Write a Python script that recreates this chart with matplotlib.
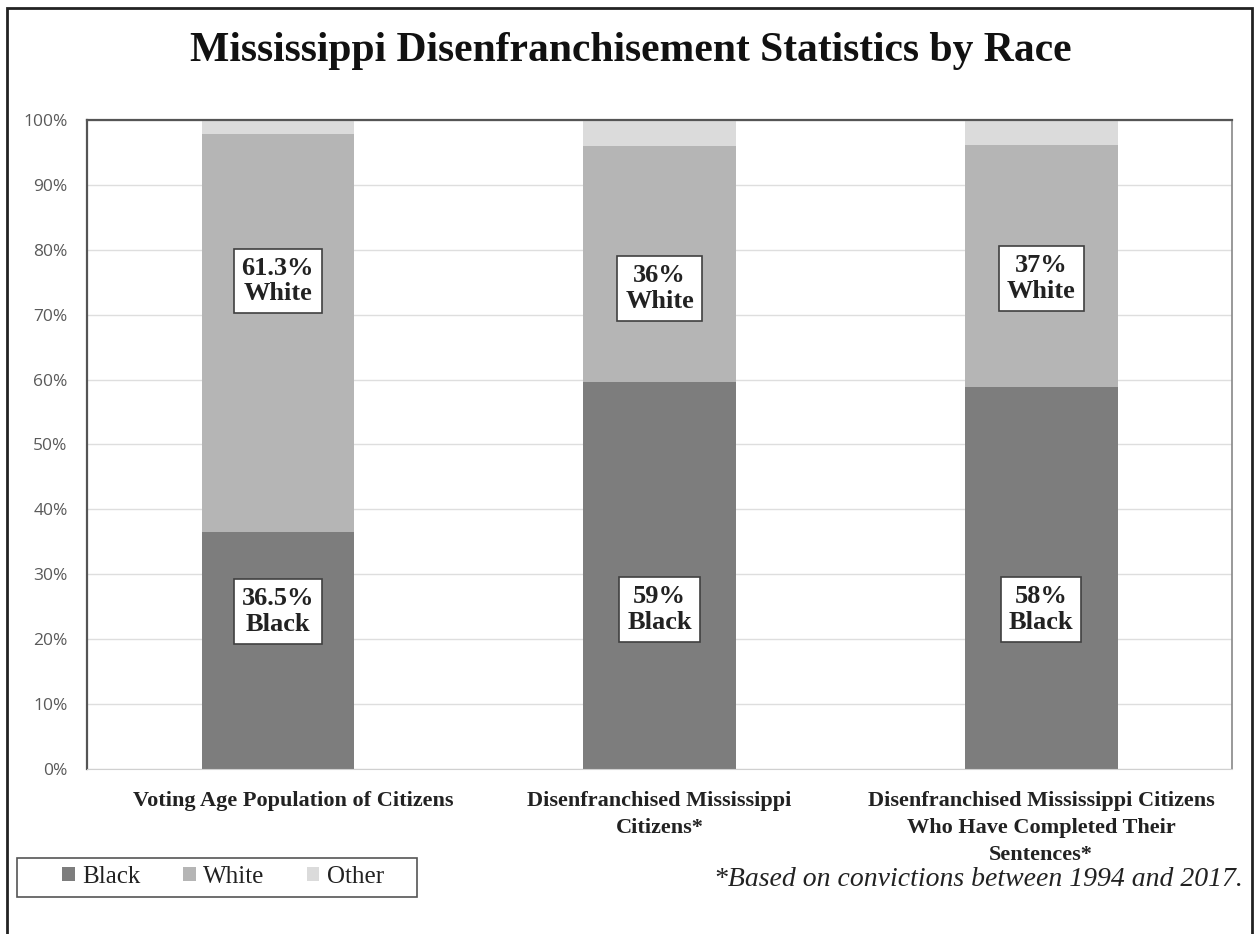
import matplotlib
matplotlib.use("Agg")
import matplotlib.pyplot as plt
import matplotlib.transforms as mtransforms
from matplotlib.patches import Rectangle
import numpy as np

# --- data -------------------------------------------------------------------
categories = ["Voting Age Population of Citizens",
              "Disenfranchised Mississippi\nCitizens*",
              "Disenfranchised Mississippi Citizens\nWho Have Completed Their\nSentences*"]
black = [36.5, 59.7, 58.9]
white = [61.3, 36.3, 37.2]
other = [2.2, 4.0, 3.9]
black_labels = ["36.5%\nBlack", "59%\nBlack", "58%\nBlack"]
white_labels = ["61.3%\nWhite", "36%\nWhite", "37%\nWhite"]
yticks = list(range(0, 101, 10))

COLORS = {"Black": "#7d7d7d", "White": "#b5b5b5", "Other": "#dbdbdb"}
SERIF = "Liberation Serif"

fig = plt.figure(figsize=(12.54, 9.34), dpi=100)
ax = fig.add_axes([0.0694, 0.1767, 0.9131, 0.6948])

x = np.arange(len(categories))
w = 0.4
b1 = ax.bar(x, black, w, color=COLORS["Black"], label="Black", zorder=2)
b2 = ax.bar(x, white, w, bottom=black, color=COLORS["White"], label="White", zorder=2)
tops = [a + b for a, b in zip(black, white)]
b3 = ax.bar(x, other, w, bottom=tops, color=COLORS["Other"], label="Other", zorder=2)

# label boxes
box = dict(boxstyle="square,pad=0.3", fc="white", ec="#404040", lw=1.2)
white_y = [75.2, 74.0, 75.6]
black_y = [24.3, 24.6, 24.6]
for i in range(len(categories)):
    for yy, txt in ((white_y[i], white_labels[i]), (black_y[i], black_labels[i])):
        ax.text(x[i], yy, txt, ha="center", va="center",
                family=SERIF, fontweight="bold", fontsize=19, color="#222222",
                bbox=box, zorder=3, linespacing=1.15)

ax.set_xlim(-0.5, 2.5)
ax.set_ylim(0, 100)
ax.set_yticks(yticks)
ax.set_yticklabels([f"{t}%" for t in yticks], family="Open Sans",
                   fontsize=12.5, color="#5a5a5a")
ax.yaxis.grid(True, color="#dedede", lw=1, zorder=0)
ax.tick_params(axis="both", length=0)
ax.tick_params(axis="y", pad=14)
ax.tick_params(axis="x", pad=16)
ax.set_xticks(x)
ax.set_xticklabels(categories, family=SERIF, fontweight="bold", fontsize=16,
                   color="#222222", linespacing=1.45)
# first category label sits a bit right of its bar in the original
lbl0 = ax.get_xticklabels()[0]
lbl0.set_transform(lbl0.get_transform() +
                   mtransforms.ScaledTranslation(0.15, 0, fig.dpi_scale_trans))

for side in ["left", "top"]:
    ax.spines[side].set_color("#555555")
    ax.spines[side].set_linewidth(1.6)
ax.spines["right"].set_color("#888888")
ax.spines["right"].set_linewidth(1.2)
ax.spines["bottom"].set_color("#d0d0d0")

fig.text(0.503, 0.945, "Mississippi Disenfranchisement Statistics by Race",
         ha="center", va="center", family=SERIF, fontweight="bold", fontsize=30,
         color="#111111")

# legend: entries without frame, box drawn separately
leg = fig.legend(handles=[b1, b2, b3], labels=["Black", "White", "Other"],
                 loc="center", bbox_to_anchor=(0.178, 0.061), ncol=3,
                 prop={"family": SERIF, "size": 18}, frameon=False,
                 handlelength=0.5, handleheight=0.5,
                 handletextpad=0.3, columnspacing=1.7, borderpad=0.2)
for t in leg.get_texts():
    t.set_color("#222222")
fig.patches.append(Rectangle((17 / 1254, 1 - 897 / 934), 400 / 1254, 39 / 934,
                             transform=fig.transFigure, fill=False,
                             ec="#555555", lw=1.2))

fig.text(0.991, 0.058, "*Based on convictions between 1994 and 2017.",
         ha="right", va="center", family=SERIF, style="italic", fontsize=20,
         color="#222222")

# outer frame
fig.patches.append(Rectangle((7 / 1254, -0.01), 1245 / 1254, 1 - 8 / 934 + 0.01,
                             transform=fig.transFigure, fill=False,
                             ec="#222222", lw=2))

fig.savefig("out.png", dpi=100)
